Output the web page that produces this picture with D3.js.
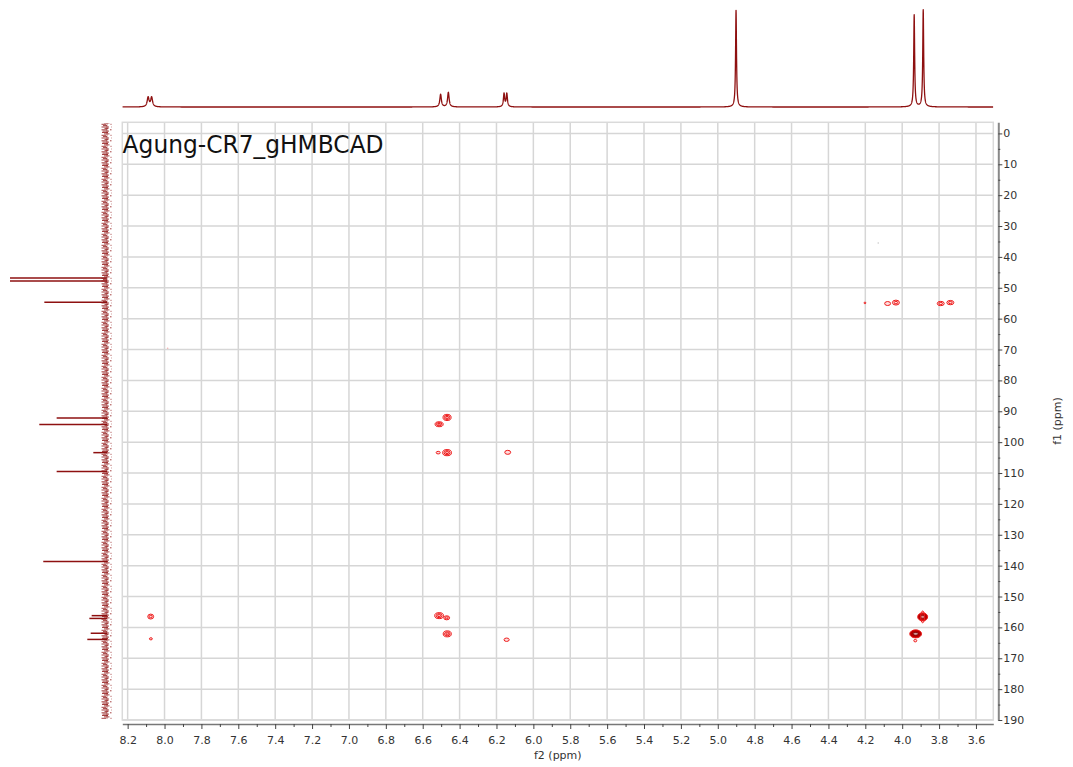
<!DOCTYPE html>
<html>
<head>
<meta charset="utf-8">
<script src="https://cdn.jsdelivr.net/npm/d3@7"></script>
<style>
  html, body { margin: 0; padding: 0; background: #fff; }
  svg { display: block; }
  .tick text { font-family: "DejaVu Sans", sans-serif; font-size: 11px; fill: #333; }
</style>
</head>
<body>
<svg id="chart" width="1073" height="767"></svg>
<script>
// --- data ---
const title = "Agung-CR7_gHMBCAD";

// f2 ticks (ppm)
const xTickValues = [8.2, 8.0, 7.8, 7.6, 7.4, 7.2, 7.0, 6.8, 6.6, 6.4, 6.2, 6.0,
                     5.8, 5.6, 5.4, 5.2, 5.0, 4.8, 4.6, 4.4, 4.2, 4.0, 3.8, 3.6];
// f1 ticks (ppm)
const yTickValues = [0, 10, 20, 30, 40, 50, 60, 70, 80, 90, 100, 110, 120, 130,
                     140, 150, 160, 170, 180, 190];

// 1H projection (top)
const protonShift  = [8.089, 8.070, 6.503, 6.461, 6.159, 6.144, 4.901, 3.935, 3.886];
const protonHeight = [9.8, 9.8, 13, 15, 13.6, 13.6, 99.6, 94.8, 100];
const protonWidth  = [0.006, 0.006, 0.005, 0.005, 0.004, 0.004, 0.003, 0.003, 0.003];

// 13C projection (left)
const carbonShift  = [46.8, 47.8, 54.7, 92.2, 94.3, 103.4, 109.5, 138.7,
                      156.2, 157.1, 161.9, 163.9];
const carbonHeight = [100, 100, 64.6, 51.9, 69.8, 14.1, 51.9, 65.7,
                      15.8, 18.2, 16.8, 20.3];

// HMBC cross peaks: f2, f1, half widths (ppm), contour levels
const crossF2     = [8.075, 8.074, 6.468, 6.511, 6.516, 6.468, 6.139, 6.511, 6.470, 6.467,
                     6.145, 4.202, 4.079, 4.034, 3.791, 3.739, 3.889, 3.889, 3.927, 3.929];
const crossF1     = [156.5, 163.7, 92.0, 94.2, 103.4, 103.4, 103.3, 156.2, 156.9, 162.1,
                     164.0, 54.9, 55.1, 54.8, 55.1, 54.8, 156.6, 156.6, 162.1, 164.3];
const crossWidthF2 = [0.016, 0.008, 0.022, 0.022, 0.011, 0.024, 0.016, 0.024, 0.016, 0.022,
                      0.014, 0.005, 0.016, 0.019, 0.019, 0.019, 0.027, 0.011, 0.032, 0.008];
const crossWidthF1 = [0.8, 0.35, 1.0, 0.8, 0.42, 1.0, 0.65, 0.97, 0.65, 0.97,
                      0.55, 0.25, 0.65, 0.8, 0.7, 0.7, 1.3, 1.9, 1.3, 0.4];
const crossLevels  = [2, 1, 3, 3, 1, 3, 1, 3, 2, 3,
                      1, 1, 1, 2, 2, 2, 6, 1, 6, 1];

// faint artefact specks (f2, f1)
const speckF2 = [7.983, 4.13];
const speckF1 = [69.6, 35.5];

// --- layout ---
const W = 1073, H = 767;
const plot = { left: 122.3, right: 993.3, top: 122.3, bottom: 720 };
const specColor = "#8e1010";
const contourColor = "#ee1c1c";

const svg = d3.select("#chart");
svg.append("rect").attr("width", W).attr("height", H).attr("fill", "#fff");

const x = d3.scaleLinear().domain([8.229, 3.506]).range([plot.left, plot.right]);
const y = d3.scaleLinear().domain([-3.6, 190]).range([plot.top, plot.bottom]);
const topY = d3.scaleLinear().domain([0, 100]).range([107, 10]);
const leftX = d3.scaleLinear().domain([0, 100]).range([107, 10]);

// --- grid ---
const grid = svg.append("g");
grid.selectAll(".vg").data(xTickValues).enter().append("line")
  .attr("x1", d => x(d)).attr("x2", d => x(d))
  .attr("y1", plot.top).attr("y2", plot.bottom)
  .attr("stroke", "#d6d6d6").attr("stroke-width", 1.5);
grid.selectAll(".hg").data(yTickValues).enter().append("line")
  .attr("x1", plot.left).attr("x2", plot.right)
  .attr("y1", d => y(d)).attr("y2", d => y(d))
  .attr("stroke", "#d6d6d6").attr("stroke-width", 1.5);
grid.append("rect")
  .attr("x", plot.left).attr("y", plot.top)
  .attr("width", plot.right - plot.left).attr("height", plot.bottom - plot.top)
  .attr("fill", "none").attr("stroke", "#dadada").attr("stroke-width", 1.5);

// title
svg.append("text")
  .attr("x", 122.6).attr("y", 153)
  .attr("font-family", "DejaVu Sans, sans-serif")
  .attr("font-size", 25)
  .attr("textLength", 261).attr("lengthAdjust", "spacingAndGlyphs")
  .attr("fill", "#111")
  .text(title);

// --- cross peaks ---
const peaks = crossF2.map((f2, i) => ({
  f2, f1: crossF1[i], w2: crossWidthF2[i], w1: crossWidthF1[i], lv: crossLevels[i]
}));
const pg = svg.append("g");
peaks.forEach(p => {
  const cx = x(p.f2), cy = y(p.f1);
  const rx = Math.abs(x(p.f2 + p.w2) - cx), ry = Math.abs(y(p.f1 + p.w1) - cy);
  if (p.lv >= 5) {
    pg.append("ellipse").attr("cx", cx).attr("cy", cy).attr("rx", rx).attr("ry", ry)
      .attr("fill", "#b80000").attr("stroke", contourColor).attr("stroke-width", 1);
    pg.append("ellipse").attr("cx", cx).attr("cy", cy).attr("rx", rx * 0.45).attr("ry", ry * 0.35)
      .attr("fill", "#d9a0a0").attr("stroke", "#7a0000").attr("stroke-width", 0.8);
    return;
  }
  for (let k = 0; k < p.lv; k++) {
    const s = 1 - k / p.lv;
    pg.append("ellipse").attr("cx", cx).attr("cy", cy)
      .attr("rx", Math.max(rx * s, 0.6)).attr("ry", Math.max(ry * s, 0.6))
      .attr("fill", k === 0 ? "rgba(255,60,60,0.18)" : "none")
      .attr("stroke", contourColor).attr("stroke-width", 1);
  }
});
pg.selectAll(".speck").data(speckF2).enter().append("circle")
  .attr("cx", d => x(d)).attr("cy", (d, i) => y(speckF1[i])).attr("r", 0.8)
  .attr("fill", (d, i) => i === 0 ? "#f2b0b0" : "#c8c8c8");

// --- top 1H projection ---
const defs = svg.append("defs");
defs.append("clipPath").attr("id", "clip-top")
  .append("rect").attr("x", plot.left).attr("y", 9).attr("width", plot.right - plot.left).attr("height", 110);

const lor = (v, c, h, w) => h / (1 + ((v - c) / w) ** 2);
const samples = d3.range(x.domain()[1], x.domain()[0], 0.0005).concat(protonShift).sort(d3.ascending);
const topLine = d3.line()
  .x(d => x(d))
  .y(d => topY(d3.sum(protonShift, (c, i) => lor(d, c, protonHeight[i], protonWidth[i]))));
svg.append("path")
  .attr("clip-path", "url(#clip-top)")
  .attr("d", topLine(samples))
  .attr("fill", "none").attr("stroke", specColor).attr("stroke-width", 1.3)
  .attr("stroke-linejoin", "round");

// --- left 13C projection ---
const pat = defs.append("pattern").attr("id", "noise")
  .attr("patternUnits", "userSpaceOnUse").attr("width", 10).attr("height", 11);
[[0.5, 2, 8], [1.9, 4, 9.5], [3.3, 0.5, 6], [4.6, 3, 7], [6.0, 1, 9], [7.4, 4.5, 8.5], [8.8, 0, 7], [10.1, 2.5, 9]]
  .forEach(([py, a, b]) => {
    pat.append("line").attr("x1", a).attr("x2", b).attr("y1", py).attr("y2", py)
      .attr("stroke", specColor).attr("stroke-width", 1).attr("stroke-opacity", 0.8);
  });
svg.append("rect")
  .attr("x", 101.5).attr("y", 123).attr("width", 10).attr("height", 596)
  .attr("fill", "url(#noise)");
svg.append("line")
  .attr("x1", 107).attr("x2", 107).attr("y1", 123).attr("y2", 719)
  .attr("stroke", specColor).attr("stroke-width", 1).attr("stroke-opacity", 0.5);
svg.append("g").selectAll("line").data(carbonShift).enter().append("line")
  .attr("x1", leftX(0)).attr("x2", (d, i) => leftX(carbonHeight[i]))
  .attr("y1", d => y(d)).attr("y2", d => y(d))
  .attr("stroke", specColor).attr("stroke-width", 1.5);

// --- axes ---
const xMinor = d3.pairs(xTickValues, (a, b) => (a + b) / 2);
const yMinor = d3.pairs(yTickValues, (a, b) => (a + b) / 2);

const xAxisG = svg.append("g").attr("transform", "translate(0,724)");
xAxisG.call(d3.axisBottom(x).tickValues(xTickValues).tickSize(5).tickSizeOuter(0)
  .tickPadding(7).tickFormat(d3.format(".1f")));
xAxisG.append("g").call(d3.axisBottom(x).tickValues(xMinor).tickSize(3).tickSizeOuter(0).tickFormat(""))
  .select(".domain").remove();
xAxisG.select(".domain").attr("stroke", "#777").attr("stroke-width", 1.5);
xAxisG.selectAll(".tick line").attr("stroke", "#444");

const yAxisG = svg.append("g").attr("transform", "translate(998.3,0)");
yAxisG.call(d3.axisRight(y).tickValues(yTickValues).tickSize(4).tickSizeOuter(0).tickPadding(1));
yAxisG.append("g").call(d3.axisRight(y).tickValues(yMinor).tickSize(2).tickSizeOuter(0).tickFormat(""))
  .select(".domain").remove();
yAxisG.select(".domain").attr("stroke", "#888").attr("stroke-width", 2);
yAxisG.selectAll(".tick line").attr("stroke", "#444");

// axis titles
svg.append("text")
  .attr("x", (plot.left + plot.right) / 2).attr("y", 759)
  .attr("text-anchor", "middle")
  .attr("font-family", "DejaVu Sans, sans-serif").attr("font-size", 11).attr("fill", "#333")
  .text("f2 (ppm)");
svg.append("text")
  .attr("transform", "translate(1061,421) rotate(-90)")
  .attr("text-anchor", "middle")
  .attr("font-family", "DejaVu Sans, sans-serif").attr("font-size", 11).attr("fill", "#333")
  .text("f1 (ppm)");
</script>
</body>
</html>
